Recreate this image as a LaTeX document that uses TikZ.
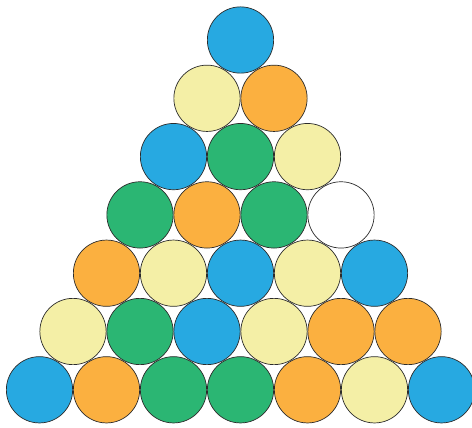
\documentclass[tikz,border=0pt]{standalone}
\usepackage{tikz}
\definecolor{cblue}{HTML}{27A9E1}
\definecolor{cyellow}{HTML}{F4EFA6}
\definecolor{corange}{HTML}{FBB040}
\definecolor{cgreen}{HTML}{2BB673}
\definecolor{crim}{HTML}{2B2B2B}

\begin{document}
\begin{tikzpicture}[x=1pt, y=-1pt,
  ball/.style={circle, draw=crim, line width=0.7pt, minimum size=66.3pt, inner sep=0pt},
  bb/.style={ball, fill=cblue},
  by/.style={ball, fill=cyellow},
  bo/.style={ball, fill=corange},
  bg/.style={ball, fill=cgreen},
  bw/.style={ball, fill=white}]
  \useasboundingbox (0,0) rectangle (472,428);
  \clip (0,0) rectangle (472,428);
  % rows from the top, centres 67 apart, rows 58.3 apart
  \foreach \c [count=\k from 0] in {bb}
    \node[\c] (b0\k) at ({240.5+(\k-0)*67}, 40) {};
  \foreach \c [count=\k from 0] in {by,bo}
    \node[\c] (b1\k) at ({240.5+(\k-0.5)*67}, 98.3) {};
  \foreach \c [count=\k from 0] in {bb,bg,by}
    \node[\c] (b2\k) at ({240.5+(\k-1)*67}, 156.6) {};
  \foreach \c [count=\k from 0] in {bg,bo,bg,bw}
    \node[\c] (b3\k) at ({240.5+(\k-1.5)*67}, 214.9) {};
  \foreach \c [count=\k from 0] in {bo,by,bb,by,bb}
    \node[\c] (b4\k) at ({240.5+(\k-2)*67}, 273.2) {};
  \foreach \c [count=\k from 0] in {by,bg,bb,by,bo,bo}
    \node[\c] (b5\k) at ({240.5+(\k-2.5)*67}, 331.5) {};
  \foreach \c [count=\k from 0] in {bb,bo,bg,bg,bo,by,bb}
    \node[\c] (b6\k) at ({240.5+(\k-3)*67}, 389.8) {};
\end{tikzpicture}
\end{document}
